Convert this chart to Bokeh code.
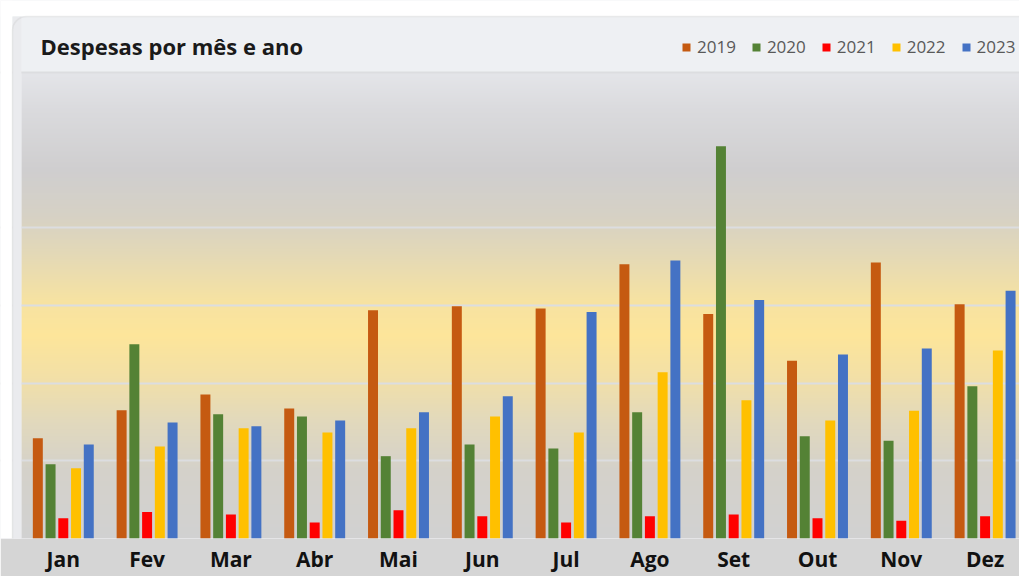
import numpy as np
from bokeh.plotting import figure
from bokeh.models import ColumnDataSource, Range1d, FixedTicker, Label, BoxAnnotation
from bokeh.transform import dodge
from bokeh.embed import file_html
from bokeh.resources import INLINE

# ---------------- data ----------------
title = "Despesas por mês e ano"
months = ["Jan", "Fev", "Mar", "Abr", "Mai", "Jun", "Jul", "Ago", "Set", "Out", "Nov", "Dez"]
years = ["2019", "2020", "2021", "2022", "2023"]
v2019 = [1290, 1650, 1855, 1675, 2940, 2990, 2960, 3530, 2890, 2290, 3555, 3015]
v2020 = [955, 2500, 1600, 1570, 1060, 1210, 1160, 1625, 5050, 1315, 1260, 1960]
v2021 = [260, 340, 310, 205, 365, 285, 205, 285, 310, 260, 230, 285]
v2022 = [905, 1185, 1420, 1365, 1420, 1570, 1365, 2140, 1780, 1520, 1645, 2420]
v2023 = [1210, 1495, 1445, 1520, 1625, 1830, 2915, 3580, 3070, 2370, 2445, 3190]
grid_step = 1000
y_max = 6000

# ---------------- style ----------------
colors = ["#C55A11", "#548235", "#FF0000", "#FFC000", "#4472C4"]
W, H = 1019, 576
cat_px = 83.8          # width of one month category in px
left_px = 20.9         # space left of first category
below_px = 38          # x axis panel height
plot_px = 466          # px from baseline to y_max
frame_h = H - below_px

x_start = -0.5 - left_px / cat_px
x_end = x_start + W / cat_px
y_end = y_max * frame_h / plot_px


def px2x(px):
    return (px - left_px) / cat_px - 0.5


def py2y(py):
    return (frame_h - py) * y_max / plot_px


src = ColumnDataSource(dict(x=list(range(len(months))),
                            **{years[0]: v2019, years[1]: v2020, years[2]: v2021,
                               years[3]: v2022, years[4]: v2023}))

p = figure(width=W, height=H, output_backend="svg", toolbar_location=None,
           x_range=Range1d(x_start, x_end), y_range=Range1d(0, y_end),
           y_axis_location=None,
           min_border_left=0, min_border_right=0, min_border_top=0,
           min_border_bottom=below_px,
           background_fill_color="#eef0f3", border_fill_color="#d5d5d5",
           outline_line_color=None)

# background gradient of the plot area (gray -> yellow -> gray)
stops = [(0.0, "#d1d1d1"), (0.146, "#d4d1ca"), (0.253, "#e2d9bc"), (0.35, "#f3e0a6"),
         (0.436, "#fde59a"), (0.511, "#f6e2a2"), (0.607, "#e4d9b6"), (0.693, "#d6d1c5"),
         (0.79, "#cfcecf"), (0.918, "#dadadd"), (1.0, "#e4e5e9")]
n = plot_px
f = (np.arange(n) + 0.5) / n
sp = [s[0] for s in stops]
img = np.empty((n, 2), dtype=np.uint32)
view = img.view(dtype=np.uint8).reshape((n, 2, 4))
for k in range(3):
    ch = np.interp(f, sp, [int(s[1][1 + 2 * k:3 + 2 * k], 16) for s in stops])
    view[..., k] = np.round(ch)[:, None].astype(np.uint8)
view[..., 3] = 255
bg = p.image_rgba(image=[img], x=-0.5, y=0, dw=len(months), dh=y_max)
bg.level = "image"

# chart-area margins and border
p.add_layout(BoxAnnotation(bottom=py2y(16), fill_color="white", fill_alpha=1,
                           line_color=None))
p.add_layout(BoxAnnotation(right=px2x(12), fill_color="white", fill_alpha=1,
                           line_color=None))
p.add_layout(BoxAnnotation(left=px2x(12), right=-0.5, top=py2y(16),
                           fill_color="#eaebee", fill_alpha=1, line_color=None))
p.add_layout(BoxAnnotation(left=px2x(12), top=py2y(16), right=px2x(1200), bottom=py2y(700),
                           fill_alpha=0, line_color="#c8c8c8", line_width=1.5,
                           border_radius=14))

# grid
p.xgrid.visible = False
p.ygrid.ticker = FixedTicker(ticks=[grid_step * i for i in range(1, 5)] + [y_max])
p.ygrid.grid_line_color = "#dcdde0"
p.ygrid.grid_line_width = 2
p.ygrid.level = "underlay"

# bars
step = 0.152
bw = 0.119
for j, yr in enumerate(years):
    p.vbar(x=dodge("x", (j - 2) * step), top=yr, width=bw, source=src,
           fill_color=colors[j], line_color=None, legend_label=yr)

# x axis
ax = p.xaxis[0]
ax.ticker = FixedTicker(ticks=list(range(len(months))))
ax.major_label_overrides = {i: m for i, m in enumerate(months)}
ax.axis_line_color = None
ax.major_tick_line_color = None
ax.minor_tick_line_color = None
ax.major_tick_out = 0
ax.major_tick_in = 0
ax.minor_tick_out = 0
ax.minor_tick_in = 0
ax.major_label_standoff = 6
ax.major_label_text_font = "Open Sans"
ax.major_label_text_font_style = "bold"
ax.major_label_text_font_size = "21px"
ax.major_label_text_color = "#111111"

# legend
lg = p.legend[0]
lg.orientation = "horizontal"
lg.location = (681, 480)
lg.background_fill_alpha = 0
lg.border_line_color = None
lg.padding = 0
lg.margin = 0
lg.spacing = 15
lg.label_standoff = 6
lg.glyph_width = 10
lg.glyph_height = 10
lg.label_text_font = "Open Sans"
lg.label_text_font_size = "17px"
lg.label_text_color = "#595959"

# title
p.add_layout(Label(x=px2x(40), y=py2y(45.5),
                   text=title, text_font="Open Sans", text_font_style="bold",
                   text_font_size="22px", text_color="#1a1a1a",
                   text_baseline="alphabetic"))

open("out.html", "w").write(file_html(p, INLINE))
